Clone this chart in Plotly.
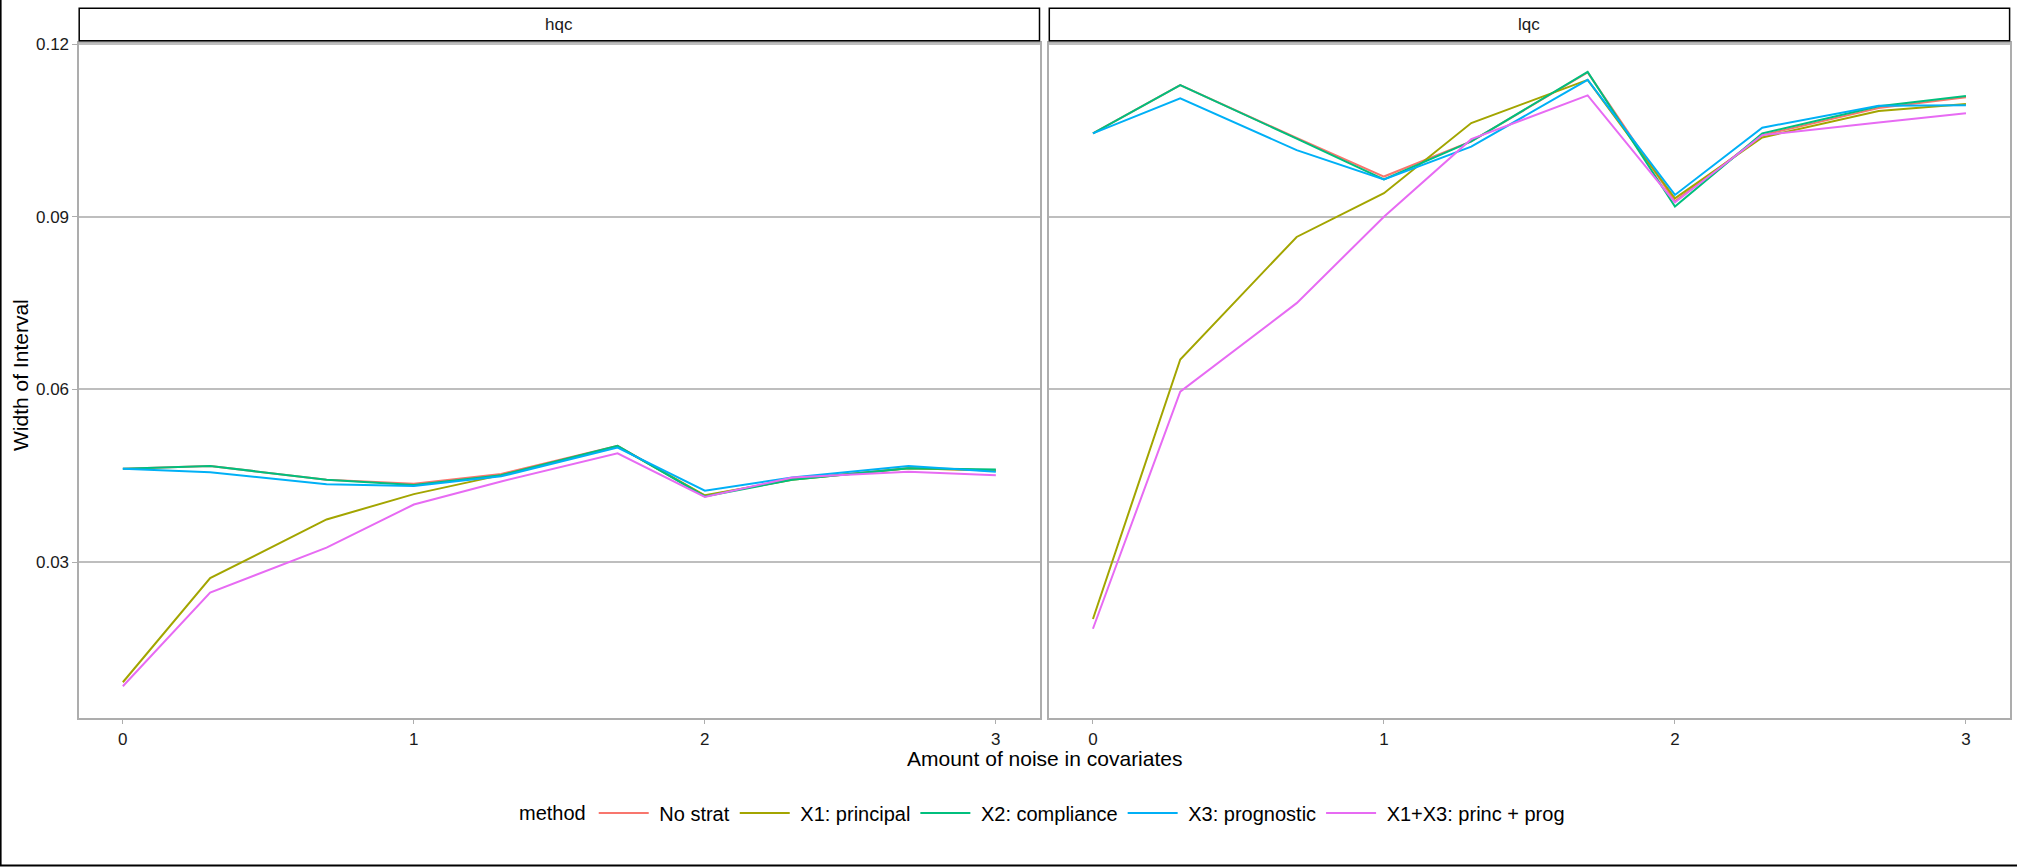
import plotly.graph_objects as go

# ---------------- data ----------------
noise = [0, 0.3, 0.7, 1, 1.3, 1.7, 2, 2.3, 2.7, 3]
facets = ["hqc", "lqc"]
methods = ["No strat", "X1: principal", "X2: compliance", "X3: prognostic", "X1+X3: princ + prog"]
colors = ["#F8766D", "#A3A500", "#00BF7D", "#00B0F6", "#E76BF3"]

hqc_no_strat = [0.0462, 0.0467, 0.0443, 0.0436, 0.0453, 0.0502, 0.0415, 0.0444, 0.0463, 0.0459]
hqc_x1 = [0.0091, 0.0272, 0.0374, 0.0418, 0.0451, 0.0501, 0.0416, 0.0443, 0.0463, 0.0459]
hqc_x2 = [0.0462, 0.0467, 0.0443, 0.0434, 0.0451, 0.0502, 0.0414, 0.0443, 0.0463, 0.0461]
hqc_x3 = [0.0462, 0.0456, 0.0435, 0.0432, 0.0449, 0.0499, 0.0424, 0.0447, 0.0467, 0.0457]
hqc_x1x3 = [0.0084, 0.0247, 0.0325, 0.0400, 0.0440, 0.0489, 0.0413, 0.0447, 0.0457, 0.0451]

lqc_no_strat = [0.1045, 0.1129, 0.1037, 0.0970, 0.1031, 0.1151, 0.0927, 0.1042, 0.1089, 0.1108]
lqc_x1 = [0.0201, 0.0652, 0.0865, 0.0941, 0.1063, 0.1138, 0.0932, 0.1038, 0.1084, 0.1096]
lqc_x2 = [0.1045, 0.1129, 0.1036, 0.0965, 0.1031, 0.1152, 0.0918, 0.1045, 0.1092, 0.1110]
lqc_x3 = [0.1045, 0.1106, 0.1016, 0.0965, 0.1022, 0.1138, 0.0938, 0.1055, 0.1093, 0.1094]
lqc_x1x3 = [0.0184, 0.0596, 0.0750, 0.0900, 0.1035, 0.1111, 0.0925, 0.1042, 0.1064, 0.1080]

series = {
    "hqc": [hqc_no_strat, hqc_x1, hqc_x2, hqc_x3, hqc_x1x3],
    "lqc": [lqc_no_strat, lqc_x1, lqc_x2, lqc_x3, lqc_x1x3],
}

y_ticks = [0.03, 0.06, 0.09, 0.12]
y_ticktext = ["0.03", "0.06", "0.09", "0.12"]
x_ticks = [0, 1, 2, 3]

# ---------------- figure ----------------
W, H = 2017, 867
FONT = "Liberation Sans, Arial, Helvetica, sans-serif"
GRID = "#BEBEBE"
BORDER = "#ADADAD"
TICK_SIZE = 17
TITLE_SIZE = 21
LEGEND_SIZE = 20

fig = go.Figure()
for fi, facet in enumerate(facets):
    xa = "x" if fi == 0 else "x2"
    ya = "y" if fi == 0 else "y2"
    for mi, m in enumerate(methods):
        fig.add_trace(go.Scatter(
            x=noise, y=series[facet][mi], mode="lines", name="\u00a0" + m,
            line=dict(color=colors[mi], width=2),
            xaxis=xa, yaxis=ya, legendgroup=m, showlegend=(fi == 0),
        ))

def px_x(p):
    return p / W

def px_y(p):
    return 1 - p / H

left_dom = [px_x(79.2), px_x(1039.5)]
right_dom = [px_x(1049.3), px_x(2009.6)]
y_dom = [px_y(717.7), px_y(42.5)]
xr = [-0.15, 3.15]
yr = [0.00294, 0.1203]

xcommon = dict(range=xr, tickvals=x_ticks, ticks="outside", ticklen=5, tickwidth=1.3,
               tickcolor=BORDER, showgrid=False, zeroline=False, showline=True, mirror=True,
               linecolor=BORDER, linewidth=1.5,
               tickfont=dict(family=FONT, size=TICK_SIZE, color="#1A1A1A"))
ycommon = dict(range=yr, tickvals=y_ticks, ticktext=y_ticktext, showgrid=True, gridcolor=GRID,
               gridwidth=1.6, zeroline=False, showline=True, mirror=True, linecolor=BORDER,
               linewidth=1.5, tickfont=dict(family=FONT, size=TICK_SIZE, color="#1A1A1A"))

fig.update_layout(
    width=W, height=H,
    margin=dict(l=0, r=0, t=0, b=0, pad=0, autoexpand=False),
    paper_bgcolor="white", plot_bgcolor="white",
    font=dict(family=FONT, color="black"),
    xaxis=dict(domain=left_dom, anchor="y", **xcommon),
    xaxis2=dict(domain=right_dom, anchor="y2", **xcommon),
    yaxis=dict(domain=y_dom, anchor="x", ticks="outside", ticklen=5, tickwidth=1.3,
               tickcolor=BORDER, **ycommon),
    yaxis2=dict(domain=y_dom, anchor="x2", showticklabels=False, ticks="", matches="y", **ycommon),
    showlegend=True,
    legend=dict(
        orientation="h", x=px_x(1043.5), xanchor="center", y=px_y(813), yanchor="middle",
        title=dict(text="method", font=dict(family=FONT, size=LEGEND_SIZE)),
        font=dict(family=FONT, size=LEGEND_SIZE, color="black"),
        itemwidth=50, tracegroupgap=0, bgcolor="rgba(0,0,0,0)",
    ),
)

# facet strips
for xa, facet in [("x", "hqc"), ("x2", "lqc")]:
    fig.add_shape(type="rect", xref=f"{xa} domain", yref="paper", x0=0, x1=1,
                  y0=px_y(40.7), y1=px_y(8.3), line=dict(color="black", width=1.5),
                  fillcolor="white", layer="above")
    fig.add_annotation(xref=f"{xa} domain", yref="paper", x=0.5, y=px_y(24.5),
                       text=facet, showarrow=False, xanchor="center", yanchor="middle",
                       font=dict(family=FONT, size=TICK_SIZE, color="#1A1A1A"))

# axis titles
fig.add_annotation(xref="paper", yref="paper", x=px_x(1044), y=px_y(745), text="Amount of noise in covariates",
                   showarrow=False, xanchor="center", yanchor="top",
                   font=dict(family=FONT, size=TITLE_SIZE, color="black"))
fig.add_annotation(xref="paper", yref="paper", x=px_x(21), y=px_y(375), text="Width of Interval",
                   textangle=-90, showarrow=False, xanchor="center", yanchor="middle",
                   font=dict(family=FONT, size=TITLE_SIZE, color="black"))

# outer frame (left and bottom edges)
fig.add_shape(type="line", xref="paper", yref="paper", x0=px_x(0.8), x1=px_x(0.8), y0=px_y(866), y1=1,
              line=dict(color="black", width=1.6))
fig.add_shape(type="line", xref="paper", yref="paper", x0=0, x1=1, y0=px_y(865.5), y1=px_y(865.5),
              line=dict(color="black", width=2))

fig.write_html("out.html")
